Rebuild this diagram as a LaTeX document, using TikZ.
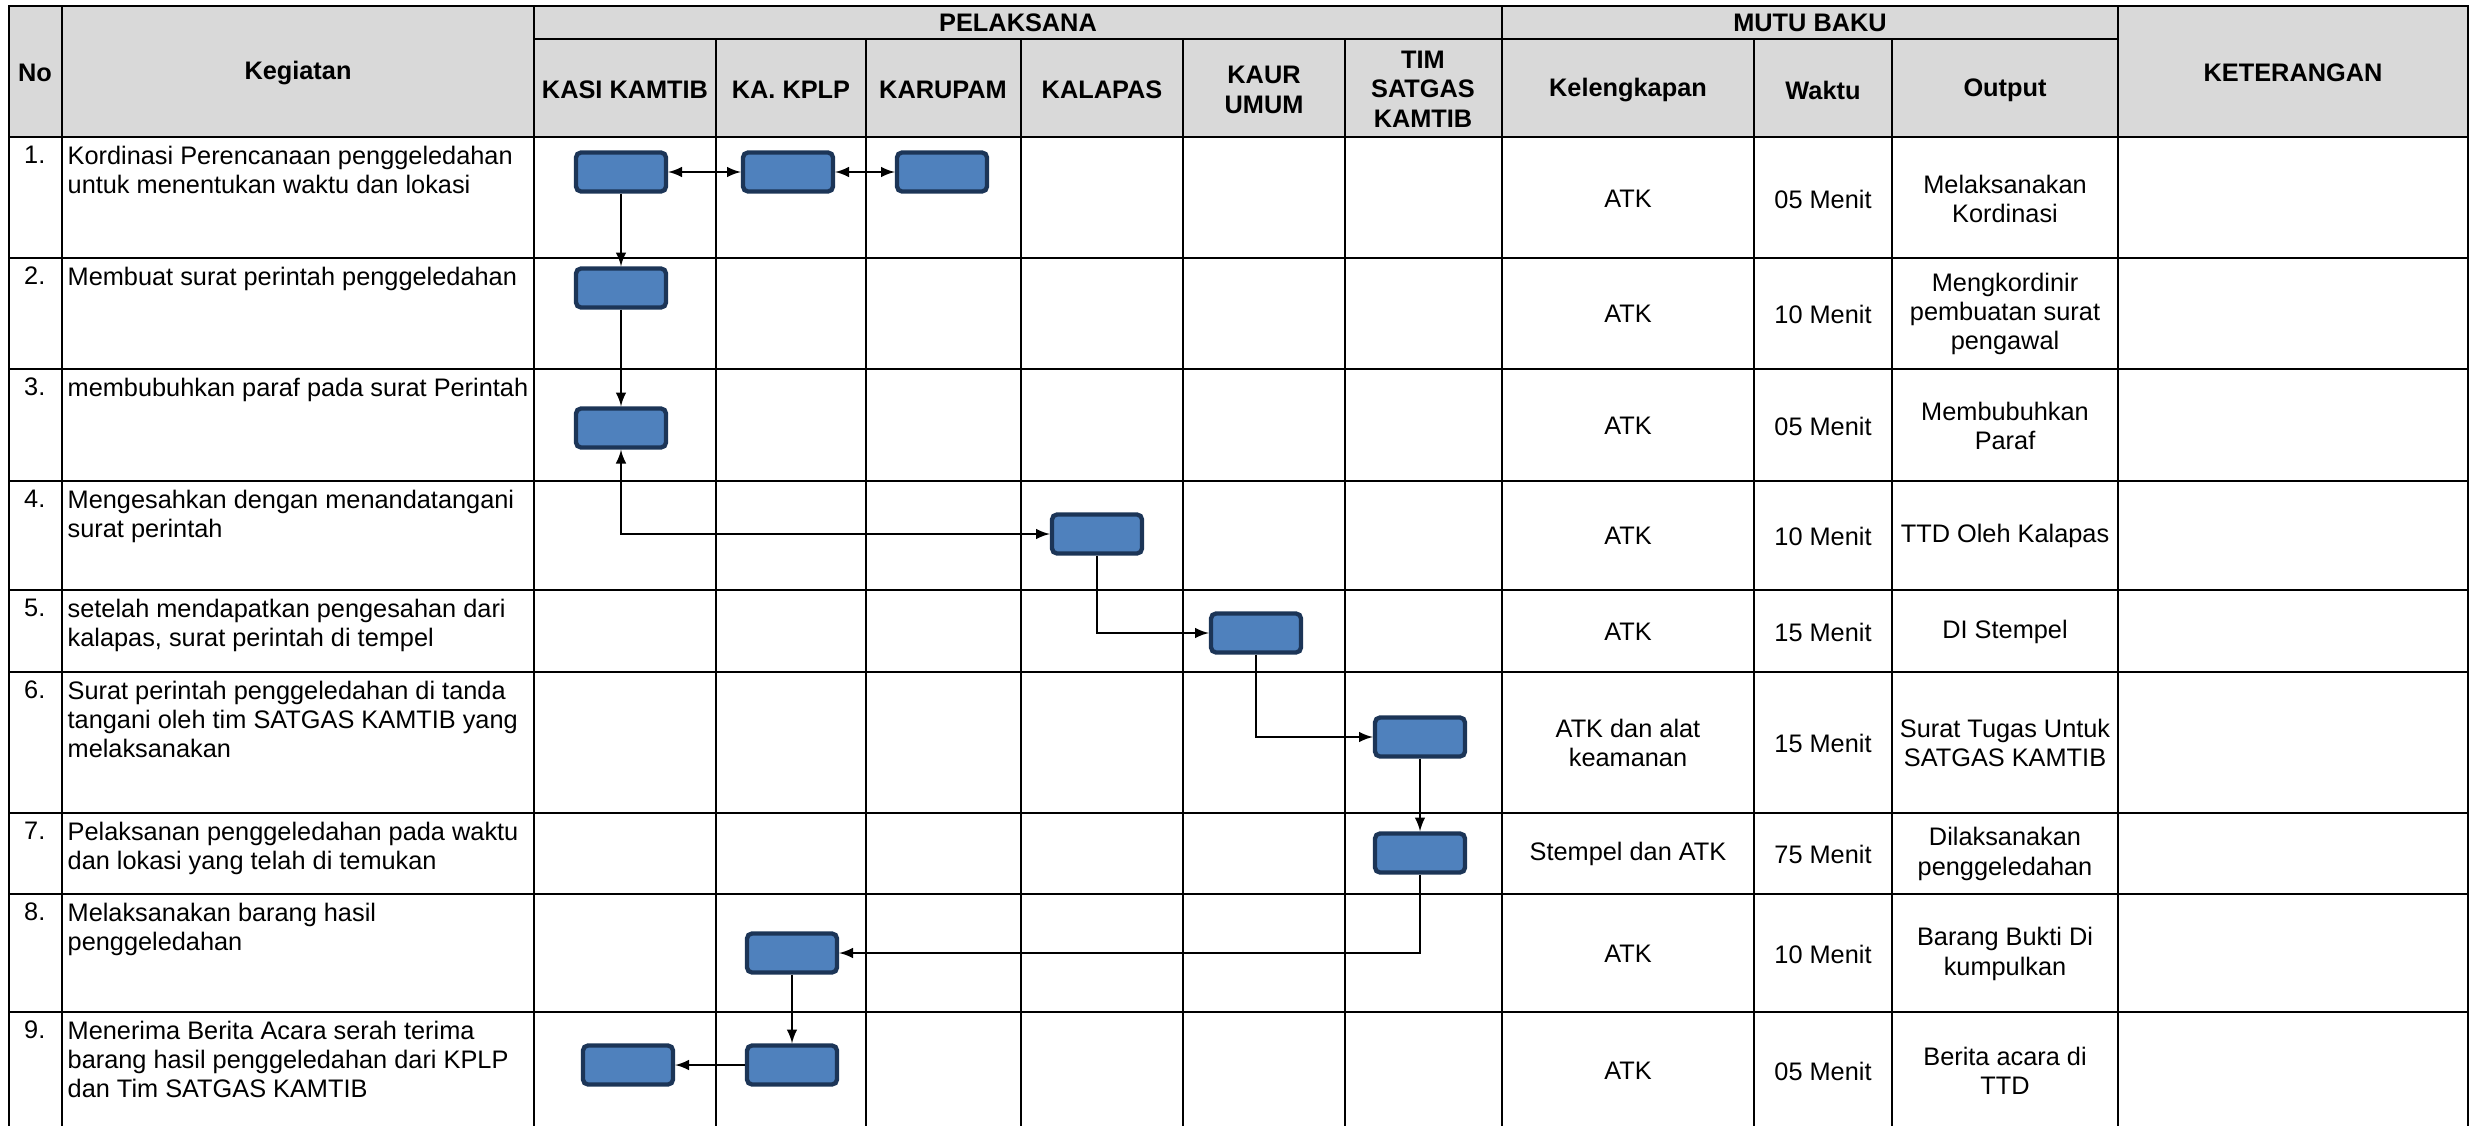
\documentclass[tikz,border=0pt]{standalone}
\usepackage{fontspec}
\setmainfont{Liberation Sans}
\usepackage{xcolor}
\usepackage{tikz}
\definecolor{hdgray}{HTML}{D9D9D9}
\definecolor{boxfill}{HTML}{4F81BD}
\definecolor{boxline}{HTML}{1C3557}

\begin{document}
\begin{tikzpicture}[x=0.3pt,y=-0.3pt,>=latex,
  txt/.style={font=\fontsize{7.6}{8.8}\selectfont,inner sep=0pt,align=center},
  hd/.style={txt,font=\fontsize{7.6}{8.8}\selectfont\bfseries},
  keg/.style={txt,align=left,anchor=north west},
  nr/.style={txt,anchor=north east},
  act/.style={draw=boxline,fill=boxfill,line width=1.3pt,rounded corners=1.5pt,
    minimum width=27pt,minimum height=11.7pt,inner sep=0pt},
  grid/.style={line width=0.75pt},
  flow/.style={line width=0.45pt}]
\useasboundingbox (0,0) rectangle (2476,1126);
% header band and table lines
\fill[hdgray] (9,6) rectangle (2468,137);
\draw[grid] (9,1126) -- (9,6) -- (2468,6) -- (2468,1126);
\draw[grid] (534,39) -- (2118,39);
\draw[grid] (9,137) -- (2468,137);
\draw[grid] (9,258) -- (2468,258);
\draw[grid] (9,369) -- (2468,369);
\draw[grid] (9,481) -- (2468,481);
\draw[grid] (9,590) -- (2468,590);
\draw[grid] (9,672) -- (2468,672);
\draw[grid] (9,813) -- (2468,813);
\draw[grid] (9,894) -- (2468,894);
\draw[grid] (9,1012) -- (2468,1012);
\draw[grid] (62,6) -- (62,1126);
\draw[grid] (534,6) -- (534,1126);
\draw[grid] (1502,6) -- (1502,1126);
\draw[grid] (2118,6) -- (2118,1126);
\draw[grid] (716,39) -- (716,1126);
\draw[grid] (866,39) -- (866,1126);
\draw[grid] (1021,39) -- (1021,1126);
\draw[grid] (1183,39) -- (1183,1126);
\draw[grid] (1345,39) -- (1345,1126);
\draw[grid] (1754,39) -- (1754,1126);
\draw[grid] (1892,39) -- (1892,1126);
% header
\node[hd] (hno) at (35,73) {No};
\node[hd] (hkeg) at (298,73) {Kegiatan};
\node[hd] (hpel) at (1018,23) {PELAKSANA};
\node[hd] (hmutu) at (1810,23) {MUTU BAKU};
\node[hd] (hket) at (2293,73) {KETERANGAN};
\node[hd] (hkasi) at (625,90) {KASI KAMTIB};
\node[hd] (hkplp) at (791,90) {KA. KPLP};
\node[hd] (hkarupam) at (943,90) {KARUPAM};
\node[hd] (hkalapas) at (1102,90) {KALAPAS};
\node[hd] (hkaur) at (1264,90) {KAUR\\UMUM};
\node[hd] (htim) at (1423,89) {TIM\\SATGAS\\KAMTIB};
\node[hd] (hlengkap) at (1628,90) {Kelengkapan};
\node[hd] (hwaktu) at (1823,90) {Waktu};
\node[hd] (houtput) at (2005,90) {Output};
% kegiatan
\node[nr] (n1) at (46,145) {1.};
\node[keg] (k1) at (67,145) {Kordinasi Perencanaan penggeledahan\\untuk menentukan waktu dan lokasi};
\node[nr] (n2) at (46,266) {2.};
\node[keg] (k2) at (67,266) {Membuat surat perintah penggeledahan};
\node[nr] (n3) at (46,377) {3.};
\node[keg] (k3) at (67,377) {membubuhkan paraf pada surat Perintah};
\node[nr] (n4) at (46,489) {4.};
\node[keg] (k4) at (67,489) {Mengesahkan dengan menandatangani\\surat perintah};
\node[nr] (n5) at (46,598) {5.};
\node[keg] (k5) at (67,598) {setelah mendapatkan pengesahan dari\\kalapas, surat perintah di tempel};
\node[nr] (n6) at (46,680) {6.};
\node[keg] (k6) at (67,680) {Surat perintah penggeledahan di tanda\\tangani oleh tim SATGAS KAMTIB yang\\melaksanakan};
\node[nr] (n7) at (46,821) {7.};
\node[keg] (k7) at (67,821) {Pelaksanan penggeledahan pada waktu\\dan lokasi yang telah di temukan};
\node[nr] (n8) at (46,902) {8.};
\node[keg] (k8) at (67,902) {Melaksanakan barang hasil\\penggeledahan};
\node[nr] (n9) at (46,1020) {9.};
\node[keg] (k9) at (67,1020) {Menerima Berita Acara serah terima\\barang hasil penggeledahan dari KPLP\\dan Tim SATGAS KAMTIB};
% mutu baku
\node[txt] (l1) at (1628,199) {ATK};
\node[txt] (w1) at (1823,199) {05 Menit};
\node[txt] (o1) at (2005,199) {Melaksanakan\\Kordinasi};
\node[txt] (l2) at (1628,314) {ATK};
\node[txt] (w2) at (1823,314) {10 Menit};
\node[txt] (o2) at (2005,314) {Mengkordinir\\pembuatan surat\\pengawal};
\node[txt] (l3) at (1628,426) {ATK};
\node[txt] (w3) at (1823,426) {05 Menit};
\node[txt] (o3) at (2005,426) {Membubuhkan\\Paraf};
\node[txt] (l4) at (1628,536) {ATK};
\node[txt] (w4) at (1823,536) {10 Menit};
\node[txt] (o4) at (2005,536) {TTD Oleh Kalapas};
\node[txt] (l5) at (1628,632) {ATK};
\node[txt] (w5) at (1823,632) {15 Menit};
\node[txt] (o5) at (2005,632) {DI Stempel};
\node[txt] (l6) at (1628,743) {ATK dan alat\\keamanan};
\node[txt] (w6) at (1823,743) {15 Menit};
\node[txt] (o6) at (2005,743) {Surat Tugas Untuk\\SATGAS KAMTIB};
\node[txt] (l7) at (1628,854) {Stempel dan ATK};
\node[txt] (w7) at (1823,854) {75 Menit};
\node[txt] (o7) at (2005,854) {Dilaksanakan\\penggeledahan};
\node[txt] (l8) at (1628,954) {ATK};
\node[txt] (w8) at (1823,954) {10 Menit};
\node[txt] (o8) at (2005,954) {Barang Bukti Di\\kumpulkan};
\node[txt] (l9) at (1628,1071) {ATK};
\node[txt] (w9) at (1823,1071) {05 Menit};
\node[txt] (o9) at (2005,1071) {Berita acara di\\TTD};
% activity boxes
\node[act] (kasi1) at (621,172) {};
\node[act] (kplp1) at (788,172) {};
\node[act] (karupam1) at (942,172) {};
\node[act] (kasi2) at (621,288) {};
\node[act] (kasi3) at (621,428) {};
\node[act] (kalapas4) at (1097,534) {};
\node[act] (kaur5) at (1256,633) {};
\node[act] (tim6) at (1420,737) {};
\node[act] (tim7) at (1420,853) {};
\node[act] (kplp8) at (792,953) {};
\node[act] (kplp9) at (792,1065) {};
\node[act] (kasi9) at (628,1065) {};
% flow
\draw[flow,<->] (kasi1) -- (kplp1);
\draw[flow,<->] (kplp1) -- (karupam1);
\draw[flow,->] (kasi1) -- (kasi2);
\draw[flow,->] (kasi2) -- (kasi3);
\draw[flow,<->] (kasi3) |- (kalapas4);
\draw[flow,->] (kalapas4) |- (kaur5);
\draw[flow,->] (kaur5) |- (tim6);
\draw[flow,->] (tim6) -- (tim7);
\draw[flow,->] (tim7) |- (kplp8);
\draw[flow,->] (kplp8) -- (kplp9);
\draw[flow,->] (kplp9) -- (kasi9);
\end{tikzpicture}
\end{document}
